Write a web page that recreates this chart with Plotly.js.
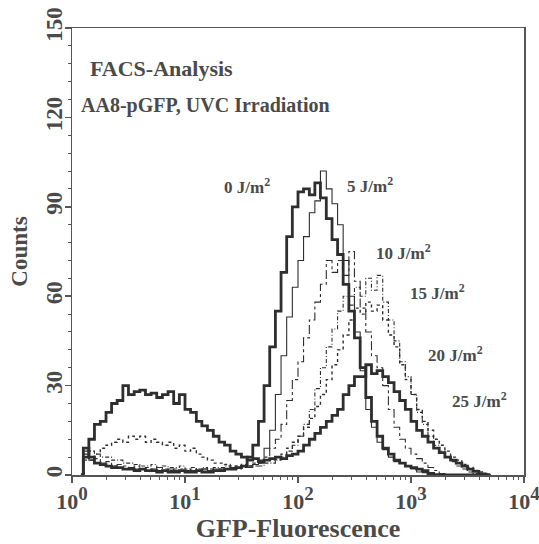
<!DOCTYPE html>
<html>
<head>
<meta charset="utf-8">
<script src="https://cdn.plot.ly/plotly-3.0.1.min.js"></script>
<style>html,body{margin:0;padding:0;background:#fff;}</style>
</head>
<body>
<div id="chart" style="width:539px;height:544px;"></div>
<script>
// Fluorescence channel positions (bins)
var fluor = [
  1.2, 1.26, 1.41, 1.58, 1.78, 2.00, 2.24, 2.51, 2.82, 3.16,
  3.55, 3.98, 4.47, 5.01, 5.62, 6.31, 7.08, 7.94, 8.91, 10.0,
  11.2, 12.6, 14.1, 15.8, 17.8, 20.0, 22.4, 25.1, 28.2, 31.6,
  35.5, 39.8, 44.7, 50.1, 56.2, 63.1, 70.8, 79.4, 89.1, 100,
  112, 126, 141, 158, 178, 200, 224, 251, 282, 316,
  355, 398, 447, 501, 562, 631, 708, 794, 891, 1000,
  1122, 1259, 1413, 1585, 1778, 1995, 2239, 2512, 2818, 3162,
  3548, 3981, 4467, 5012
];

var counts0 = [
  0, 9, 6, 4, 3.5, 3, 2.5, 2.5, 2, 2,
  1.5, 2, 1.5, 1.5, 1, 1.5, 1, 1, 1.5, 1,
  1, 1.5, 1, 1, 1.5, 1.5, 2, 2, 2.5, 3,
  6, 10, 18, 30, 43, 55, 68, 80, 90, 95,
  96, 94, 98, 93, 86, 79, 74, 64, 55, 46,
  36, 26, 18, 13, 9, 7, 5, 4, 3, 2.5,
  2, 1.5, 0.5, 0, 0, 0, 0, 0, 0, 0,
  0, 0, 0, 0
];

var counts5 = [
  0, 8, 5, 4, 3.5, 3, 3, 2.5, 2, 2.5,
  2, 2, 1.5, 2, 1.5, 1.5, 2, 1.5, 1.5, 1.5,
  1.5, 1.5, 2, 1.5, 2, 2, 2, 2.5, 2.5, 3,
  3, 3.5, 5, 9, 15, 27, 40, 53, 63, 72,
  80, 88, 92, 102, 96, 91, 84, 72, 60, 48,
  35, 22, 16, 11, 8.5, 6, 4.5, 4, 3, 2,
  1, 0.8, 0.5, 0.3, 0, 0, 0, 0, 0, 0,
  0, 0, 0, 0
];

var counts10 = [
  0, 7, 5, 5.5, 4, 4.5, 3, 3.5, 3, 2.5,
  3, 2, 2.5, 2, 2.5, 2, 1.5, 2, 2, 1.5,
  2, 1.5, 2, 2, 1.5, 2, 2, 2.5, 2, 2.5,
  2.5, 3, 4, 6, 9, 12, 17, 25, 32, 38,
  46, 52, 58, 64, 72, 68, 72, 67, 75, 65,
  56, 48, 40, 36, 30, 22, 16, 12, 9, 7,
  5.5, 4, 2.5, 1.5, 0.5, 0, 0, 0, 0, 0,
  0, 0, 0, 0
];

var counts15 = [
  0, 7, 8, 7, 6, 6, 5, 5, 4, 4,
  3.5, 3, 3, 3.5, 2.5, 3, 2.5, 2.5, 3, 2,
  2.5, 2, 2.5, 2, 2.5, 2.5, 3, 2.5, 2.5, 3,
  3, 3.5, 3, 4, 4, 5, 6, 8, 10, 13,
  17, 22, 29, 36, 43, 49, 55, 60, 57, 63,
  60, 66, 62, 67, 58, 52, 45, 38, 33, 27,
  21, 17, 13, 10, 8, 6, 4.5, 3, 2, 1,
  0.5, 0, 0, 0
];

var counts20 = [
  0, 5, 6, 7, 9, 10, 11, 12, 11, 13,
  12, 13, 11, 12, 11, 10, 11, 9, 10, 8,
  9, 7, 6, 5, 4, 4, 3.5, 3, 3, 3.5,
  3, 4, 4, 5, 5, 6, 7, 9, 11, 13,
  16, 19, 23, 27, 32, 37, 42, 47, 52, 56,
  54, 58, 55, 57, 52, 47, 43, 37, 32, 27,
  22, 18, 15, 12, 10, 8, 6, 5, 3.5, 2.5,
  1.5, 1, 0.5, 0
];

var counts25 = [
  0, 6, 12, 17, 18, 21, 24, 25, 30, 27,
  28, 28.5, 27, 27.5, 26, 27, 28, 24, 27, 22,
  21, 18, 16.5, 15, 13, 11, 10, 8, 7, 6,
  5, 5.5, 4.5, 5, 5.5, 6, 5.5, 6.5, 7, 8,
  10, 12, 14, 16, 18, 20, 22, 27, 30, 33,
  33, 37, 34, 35, 33, 31, 28, 25, 22, 18,
  15, 13, 11, 9, 7.5, 6, 5, 4, 3, 2,
  1.2, 0.4, 0, 0
];

var doseLabels = ['0 J/m<sup>2</sup>', '5 J/m<sup>2</sup>', '10 J/m<sup>2</sup>',
                  '15 J/m<sup>2</sup>', '20 J/m<sup>2</sup>', '25 J/m<sup>2</sup>'];
var xTickVals = [1, 10, 100, 1000, 10000];
var xExponents = ['0', '1', '2', '3', '4'];
var yTickVals = [0, 30, 60, 90, 120, 150];

var FONT = 'Liberation Serif, Times New Roman, serif';
var TXT = '#4a4a4a';
var LINE = '#2e2e2e';

var xTickText = xExponents.map(function (e) {
  return '10<sup><span style="font-size:19px">' + e + '</span></sup>';
});

var series = [
  {y: counts0, w: 2.8, dash: 'solid'},
  {y: counts5, w: 1.1, dash: 'solid'},
  {y: counts10, w: 1.1, dash: 'dashdot'},
  {y: counts15, w: 1.1, dash: '4px,2px,1px,2px'},
  {y: counts20, w: 1.4, dash: 'dot'},
  {y: counts25, w: 2.8, dash: 'solid'}
];

var traces = series.map(function (s, i) {
  return {
    x: fluor, y: s.y, type: 'scatter', mode: 'lines',
    name: doseLabels[i],
    line: {color: LINE, width: s.w, dash: s.dash, shape: 'hv'},
    hoverinfo: 'skip'
  };
});

var minorX = [];
[1, 10, 100, 1000].forEach(function (d) {
  for (var k = 2; k <= 9; k++) minorX.push(d * k);
});

function px2paperX(px) { return (px - 72) / 452; }
function px2paperY(py) { return (475 - py) / 447; }

var labelPos = [[247, 186], [370, 185], [403, 252], [437, 292], [455, 354], [479, 400]];

var annotations = [
  {text: 'FACS-Analysis', x: px2paperX(88), y: px2paperY(68), xanchor: 'left', yanchor: 'middle',
   font: {family: FONT, size: 22, color: TXT, weight: 'bold'}},
  {text: 'AA8-pGFP, UVC Irradiation', x: px2paperX(79), y: px2paperY(105), xanchor: 'left', yanchor: 'middle',
   font: {family: FONT, size: 20, color: TXT, weight: 'bold'}}
];
labelPos.forEach(function (p, i) {
  annotations.push({
    text: doseLabels[i], x: px2paperX(p[0]), y: px2paperY(p[1]),
    xanchor: 'center', yanchor: 'middle',
    font: {family: FONT, size: 17, color: TXT, weight: 'bold'}
  });
});
annotations.forEach(function (a) { a.xref = 'paper'; a.yref = 'paper'; a.showarrow = false; });

var layout = {
  width: 539, height: 544,
  margin: {l: 72, r: 15, t: 28, b: 69},
  paper_bgcolor: '#ffffff', plot_bgcolor: '#ffffff',
  showlegend: false,
  font: {family: FONT, color: TXT},
  xaxis: {
    type: 'log', range: [0, 4],
    tickmode: 'array', tickvals: xTickVals, ticktext: xTickText,
    ticklabeloverflow: 'allow',
    ticks: 'outside', ticklen: 6, tickwidth: 1.5, tickcolor: '#555',
    minor: {tickmode: 'array', tickvals: minorX, ticks: 'outside', ticklen: 3, tickwidth: 1, tickcolor: '#555', showgrid: false},
    showline: true, linecolor: '#555', linewidth: 1.5, mirror: true,
    showgrid: false, zeroline: false,
    tickfont: {family: FONT, size: 22, color: TXT, weight: 'bold'},
    title: {text: 'GFP-Fluorescence', font: {family: FONT, size: 26, color: TXT, weight: 'bold'}, standoff: 4}
  },
  yaxis: {
    range: [0, 150],
    tickmode: 'array', tickvals: yTickVals, tickangle: -90,
    ticks: 'outside', ticklen: 6, tickwidth: 1.5, tickcolor: '#555',
    ticklabelstandoff: -7,
    minor: {dtick: 6, ticks: 'outside', ticklen: 3, tickwidth: 1, tickcolor: '#555', showgrid: false},
    showline: true, linecolor: '#555', linewidth: 1.5, mirror: true,
    showgrid: false, zeroline: false,
    tickfont: {family: FONT, size: 23, color: TXT, weight: 'bold'},
    title: {text: 'Counts', font: {family: FONT, size: 23, color: TXT, weight: 'bold'}, standoff: 8}
  },
  annotations: annotations
};

Plotly.newPlot('chart', traces, layout, {displayModeBar: false, staticPlot: true});
</script>
</body>
</html>
